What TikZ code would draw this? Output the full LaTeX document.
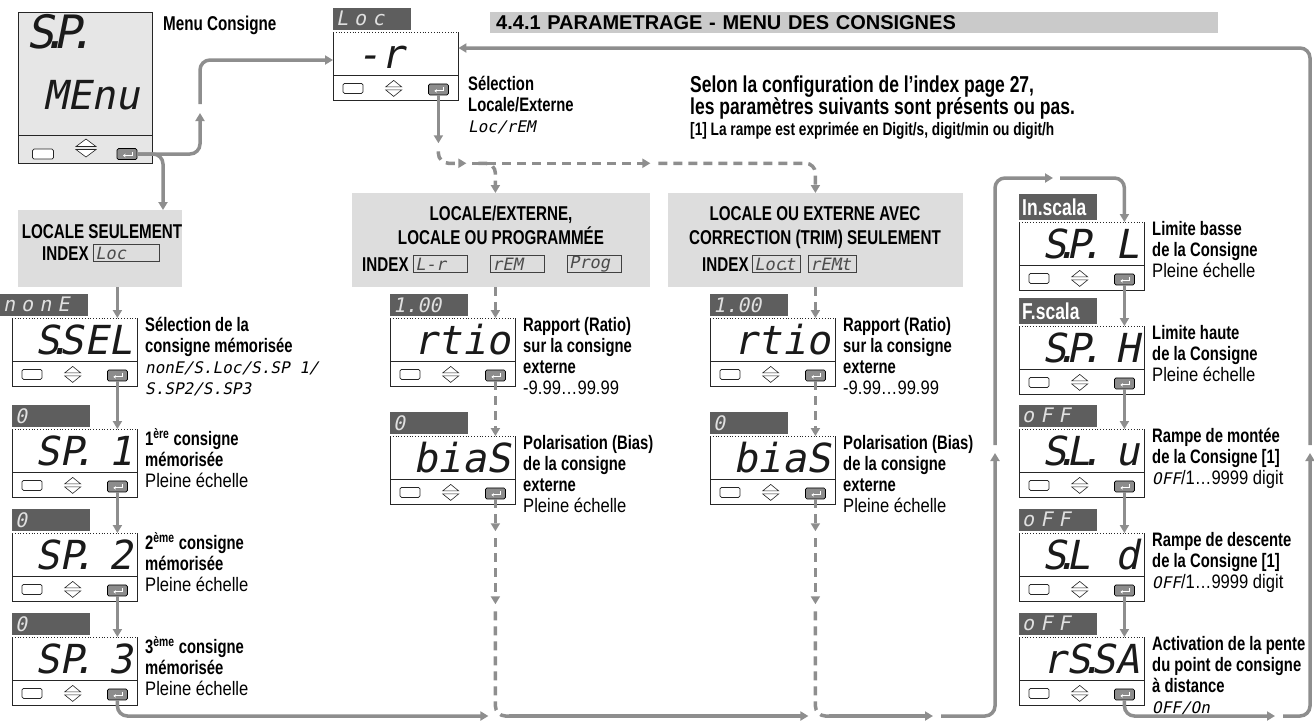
\documentclass[tikz,border=0pt]{standalone}
\usepackage{fontspec}
\setmainfont{Liberation Sans}[FakeStretch=0.76]
\newfontfamily\reg{Liberation Sans}[FakeStretch=0.85]
\newfontfamily\wide{Liberation Sans}
\newfontfamily\lcd{DejaVu Sans Mono}[FakeSlant=0.2]
\newfontfamily\lcdsp{DejaVu Sans Mono}[FakeSlant=0.2,LetterSpace=30]
\usetikzlibrary{arrows.meta,positioning,calc}

\definecolor{wire}{HTML}{8E8E8E}
\definecolor{panelgray}{HTML}{DDDDDD}
\definecolor{bargray}{HTML}{CACACA}
\definecolor{tabgray}{HTML}{5E5E5E}
\definecolor{keygray}{HTML}{8C8C8C}
\definecolor{lcdink}{HTML}{1A1A1A}

% seven-segment dot: no cell of its own
\newcommand{\lcddot}{\makebox[0pt][c]{.}}
\newcommand{\lcdt}[1]{{\lcd\mdseries\fontsize{16}{16}\selectfont#1}}
\newcommand{\plainrow}{\reg\mdseries}
\newcommand{\tabword}[1]{{\rmfamily\bfseries\fontsize{23}{23}\selectfont\color{white}#1}}

\tikzset{
  frame/.style={line width=0.8pt,draw=black!85},
  lcdbox/.style={anchor=north west,minimum width=125pt,minimum height=68pt,inner sep=0pt,fill=white},
  lcdtab/.style={anchor=south west,fill=tabgray,text=white!88!black,minimum height=22pt,
    text width=72pt,inner xsep=3pt,inner ysep=0pt,align=left,font=\lcdsp\fontsize{20}{20}\selectfont},
  lcdval/.style={anchor=base east,inner sep=0pt,text=lcdink,font=\lcd\fontsize{40}{40}\selectfont},
  blankkey/.style={draw=black!85,line width=0.7pt,fill=white,rounded corners=1.5pt,
    minimum width=20pt,minimum height=10pt,inner sep=0pt},
  enterkey/.style={draw=black,line width=0.7pt,fill=keygray,rounded corners=1.5pt,
    minimum width=20pt,minimum height=11pt,inner sep=0pt},
  desc/.style={anchor=north west,inner sep=0pt,align=left,font=\fontsize{19.5}{21}\selectfont\bfseries},
  caps/.style={inner sep=0pt,font=\bfseries\fontsize{20}{23}\selectfont},
  mode/.style={anchor=north west,fill=panelgray,inner sep=0pt},
  idxbox/.style={draw=black!75,line width=0.9pt,anchor=west,text width=#1,minimum height=17pt,
    inner xsep=2pt,inner ysep=0pt,text=black!70,font=\lcd\fontsize{17}{17}\selectfont},
  idxbox/.default=50pt,
  link/.style={draw=wire,line width=3.5pt,rounded corners=10pt},
  dlink/.style={link,dash pattern=on 9pt off 6pt},
  tip/.style={-{Triangle[length=8pt,width=9pt]}},
}

% one controller display: [tab options] name, x, y (top of the window), tab, value
\newcommand{\lcdpanel}[6][]{%
  \node[lcdbox] (#2) at (#3,#4) {};
  \draw[frame] (#2.north west) -- (#2.south west) -- (#2.south east) -- (#2.north east);
  \draw[frame,dotted] (#2.north west) -- (#2.north east);
  \draw[frame] ($(#2.north west)+(0,43)$) -- ($(#2.north east)+(0,43)$);
  \node[lcdtab,#1] (#2-tab) at ($(#2.north west)+(0,-2)$) {#5};
  \node[lcdval] (#2-val) at ($(#2.north east)+(-5,36)$) {#6};
  \node[blankkey] (#2-set) at ($(#2.south west)+(20,-12)$) {};
  \coordinate (#2-arr) at ($(#2.south)+(-2,-12)$);
  \draw[frame,line width=0.6pt,fill=white] ($(#2-arr)+(-8,-1.5)$) -- ++(8,-6.5) -- ++(8,6.5) -- cycle
    ($(#2-arr)+(-8,1.5)$) -- ++(8,6.5) -- ++(8,-6.5) -- cycle;
  \node[enterkey] (#2-ent) at ($(#2.south east)+(-20,-11)$) {};
  \draw[white,line width=1pt,-{Stealth[length=2.5pt,width=3.5pt]}]
    ($(#2-ent)+(5,-2.5)$) -- ++(0,4) -- ++(-9,0);
}

\begin{document}
\begin{tikzpicture}[x=1pt,y=-1pt]
\useasboundingbox (0,0) rectangle (1314,724);

% main menu display
\node[anchor=north west,draw=black!85,line width=0.9pt,fill=panelgray!75,
  minimum width=134pt,minimum height=151pt,inner sep=0pt] (menu) at (18,12) {};
\draw[frame] ($(menu.north west)+(0,123)$) -- ($(menu.north east)+(0,123)$);
\node[anchor=base west,inner sep=0pt,text=lcdink,font=\lcd\fontsize{46}{46}\selectfont] (menu-sp) at (26,48) {S\lcddot P\lcddot};
\node[anchor=base east,inner sep=0pt,text=lcdink,font=\lcd\fontsize{40}{40}\selectfont] (menu-val) at (140,109) {MEnu};
\node[blankkey,minimum width=21pt] (menu-set) at (43,154) {};
\coordinate (menu-arr) at (86,148);
\draw[frame,line width=0.6pt,fill=white] ($(menu-arr)+(-10,-1.5)$) -- ++(10,-7.5) -- ++(10,7.5) -- cycle
  ($(menu-arr)+(-10,1.5)$) -- ++(10,7.5) -- ++(10,-7.5) -- cycle;
\node[enterkey] (menu-ent) at (127,154) {};
\draw[white,line width=1pt,-{Stealth[length=2.5pt,width=3.5pt]}] ($(menu-ent)+(5,-2.5)$) -- ++(0,4) -- ++(-9,0);
\node[anchor=north west,inner sep=0pt,font=\bfseries\fontsize{20}{20}\selectfont] (menu-txt) at (163,16) {Menu Consigne};

% title and notes
\node[anchor=north west,fill=bargray,minimum height=21pt,text width=716pt,inner xsep=6pt,inner ysep=0pt,
  align=left,font=\wide\bfseries\fontsize{20}{20}\selectfont] (title) at (490,12) {4.4.1 PARAMETRAGE - MENU DES CONSIGNES};
\node[anchor=north west,inner sep=0pt,align=left,font=\bfseries\fontsize{23}{22}\selectfont] (note) at (690,76)
  {Selon la configuration de l’index page 27,\\les paramètres suivants sont présents ou pas.};
\node[anchor=base west,inner sep=0pt,font=\bfseries\fontsize{18}{18}\selectfont] (note-ramp) at (690,135) {[1] La rampe est exprimée en Digit/s, digit/min ou digit/h};

% local / remote selection
\lcdpanel{locrem}{333}{32}{Loc}{-r\phantom{00}}
\node[desc] (locrem-txt) at (468,76) {Sélection\\Locale/Externe\\\lcdt{Loc/rEM}};

% index groups
\node[mode,minimum width=164pt,minimum height=77pt] (onlyloc) at (18,210) {};
\node[caps,anchor=base] (onlyloc-t) at (102,238) {LOCALE SEULEMENT};
\node[caps,anchor=base west] (onlyloc-i) at (42,260) {INDEX};
\node[idxbox=62pt,right=4pt of onlyloc-i] (onlyloc-k) {Loc};

\node[mode,minimum width=298pt,minimum height=94pt] (modeA) at (352,193) {};
\node[caps,anchor=base] (modeA-t1) at (501,220) {LOCALE/EXTERNE,};
\node[caps,anchor=base] (modeA-t2) at (501,244) {LOCALE OU PROGRAMMÉE};
\node[caps,anchor=base west] (modeA-i) at (362,271) {INDEX};
\node[idxbox,right=4pt of modeA-i] (modeA-k1) {L-r};
\node[idxbox,right=22pt of modeA-k1] (modeA-k2) {rEM};
\node[idxbox,right=22pt of modeA-k2] (modeA-k3) {Prog};

\node[mode,minimum width=295pt,minimum height=94pt] (modeB) at (668,193) {};
\node[caps,anchor=base] (modeB-t1) at (815,220) {LOCALE OU EXTERNE AVEC};
\node[caps,anchor=base] (modeB-t2) at (815,244) {CORRECTION (TRIM) SEULEMENT};
\node[caps,anchor=base west] (modeB-i) at (702,271) {INDEX};
\node[idxbox=44pt,right=3pt of modeB-i] (modeB-k1) {Loc\lcddot t};
\node[idxbox=44pt,right=7pt of modeB-k1] (modeB-k2) {rEM\lcddot t};

% local set points
\lcdpanel[xshift=-12pt,text width=82pt]{ssel}{12}{318}{nonE}{S\lcddot SEL}
\lcdpanel{sp1}{12}{429}{0}{SP\lcddot\ 1}
\lcdpanel{sp2}{12}{533}{0}{SP\lcddot\ 2}
\lcdpanel{sp3}{12}{637}{0}{SP\lcddot\ 3}
\node[desc] (ssel-txt) at (145,317) {Sélection de la\\consigne mémorisée\\\lcdt{nonE/S.Loc/S.SP 1/}\\\lcdt{S.SP2/S.SP3}};
\node[desc] (sp1-txt) at (145,428) {1\textsuperscript{ère} consigne\\mémorisée\\\plainrow Pleine échelle};
\node[desc] (sp2-txt) at (145,532) {2\textsuperscript{ème} consigne\\mémorisée\\\plainrow Pleine échelle};
\node[desc] (sp3-txt) at (145,636) {3\textsuperscript{ème} consigne\\mémorisée\\\plainrow Pleine échelle};

% ratio and bias
\lcdpanel{rtioA}{390}{318}{\lcd 1.00}{rtio}
\lcdpanel{biasA}{390}{436}{0}{biaS}
\lcdpanel{rtioB}{710}{318}{\lcd 1.00}{rtio}
\lcdpanel{biasB}{710}{436}{0}{biaS}
\node[desc] (rtioA-txt) at (523,317) {Rapport (Ratio)\\sur la consigne\\externe\\\plainrow -9.99…99.99};
\node[desc] (biasA-txt) at (523,435) {Polarisation (Bias)\\de la consigne\\externe\\\plainrow Pleine échelle};
\node[desc] (rtioB-txt) at (843,317) {Rapport (Ratio)\\sur la consigne\\externe\\\plainrow -9.99…99.99};
\node[desc] (biasB-txt) at (843,435) {Polarisation (Bias)\\de la consigne\\externe\\\plainrow Pleine échelle};

% limits and ramps
\lcdpanel[minimum height=26pt]{spl}{1019}{222}{\tabword{In.scala}}{S\lcddot P\lcddot\ L}
\lcdpanel[minimum height=26pt]{sph}{1019}{326}{\tabword{F.scala}}{S\lcddot P\lcddot\ H}
\lcdpanel{slu}{1019}{429}{oFF}{S\lcddot L\lcddot\ u}
\lcdpanel{sld}{1019}{533}{oFF}{S\lcddot L\ d}
\lcdpanel{rssa}{1019}{637}{oFF}{rS\lcddot SA}
\node[desc] (spl-txt) at (1152,221) {Limite basse\\de la Consigne\\\plainrow Pleine échelle};
\node[desc] (sph-txt) at (1152,325) {Limite haute\\de la Consigne\\\plainrow Pleine échelle};
\node[desc] (slu-txt) at (1152,428) {Rampe de montée\\de la Consigne [1]\\\plainrow\lcdt{OFF}/1…9999 digit};
\node[desc] (sld-txt) at (1152,532) {Rampe de descente\\de la Consigne [1]\\\plainrow\lcdt{OFF}/1…9999 digit};
\node[desc] (rssa-txt) at (1152,636) {Activation de la pente\\du point de consigne\\à distance\\\lcdt{OFF/On}};

% ---- connectors ----
\coordinate (split) at (163,154);
\coordinate (menu-up) at (200,113);
\coordinate (menu-up2) at (200,104);
\coordinate (locrem-w) at ($(locrem.north west)+(0,28)$);
\draw[link,tip] (menu-ent.east) -| (split |- onlyloc.north);
\draw[link,tip] (menu-ent.east) -| (menu-up);
\draw[link,tip] (menu-up2) |- (locrem-w);

% fork towards the index groups
\coordinate (fork-top) at ($(locrem-ent.south)+(0,48)$);
\coordinate (fork) at ($(locrem-ent.south)+(0,56)$);
\draw[link,tip] (locrem-ent.south) -- (fork-top);
\draw[dlink,tip] (fork) |- ($(fork)+(28,12)$);
\draw[dlink,tip] ($(fork)+(34,12)$) -- ($(fork)+(212,12)$);
\draw[dlink,tip] ($(fork)+(40,12)$) -| (rtioA-ent |- modeA.north);
\draw[dlink,tip] ($(fork)+(220,12)$) -| (rtioB-ent |- modeB.north);

% left column
\draw[link,tip] (onlyloc.south -| ssel-ent) -- (ssel-ent |- ssel.north);
\draw[link,tip] (ssel-ent.south) -- (sp1-ent |- sp1.north);
\draw[link,tip] (sp1-ent.south) -- (sp2-ent |- sp2.north);
\draw[link,tip] (sp2-ent.south) -- (sp3-ent |- sp3.north);

% ratio / bias columns
\foreach \c in {A,B} {
  \draw[dlink,tip] (rtio\c-ent |- mode\c.south) -- (rtio\c-ent |- rtio\c.north);
  \draw[dlink,tip] (rtio\c-ent.south) -- (bias\c-ent |- bias\c.north);
  \draw[dlink,tip] (bias\c-ent.south) -- ($(bias\c-ent.south)+(0,32)$);
  \draw[dlink,tip] ($(bias\c-ent.south)+(0,39)$) -- ($(bias\c-ent.south)+(0,105)$);
}

% return line along the bottom
\coordinate (bot) at (0,716);
\coordinate (joinA) at (biasA-ent |- bot);
\coordinate (joinB) at (biasB-ent |- bot);
\coordinate (loop-sw) at (995,716);
\coordinate (loop-nw) at (995,178);
\draw[link,tip] (sp3-ent.south) |- ($(joinA)+(-7,0)$);
\draw[dlink] ($(biasA-ent.south)+(0,112)$) |- ($(joinA)+(14,0)$);
\draw[link,tip] ($(joinA)+(14,0)$) -- ($(joinB)+(-7,0)$);
\draw[dlink] ($(biasB-ent.south)+(0,112)$) |- ($(joinB)+(14,0)$);
\draw[link,tip] ($(joinB)+(14,0)$) -- ($(loop-sw)+(-62,0)$);
\draw[link,tip] ($(loop-sw)+(-54,0)$) -| ($(loop-sw)+(0,-263)$);
\draw[link,tip] ($(loop-sw)+(0,-271)$) |- ($(loop-nw)+(58,0)$);
\draw[link,tip] ($(loop-nw)+(65,0)$) -| (spl-ent |- spl.north);

% right column
\draw[link,tip] (spl-ent.south) -- (sph-ent |- sph.north);
\draw[link,tip] (sph-ent.south) -- (slu-ent |- slu.north);
\draw[link,tip] (slu-ent.south) -- (sld-ent |- sld.north);
\draw[link,tip] (sld-ent.south) -- (rssa-ent |- rssa.north);

% back to the start of the menu
\coordinate (ret-se) at (1310,716);
\coordinate (locrem-e) at ($(locrem.north east)+(0,16)$);
\draw[link,tip] (rssa-ent.south) |- ($(ret-se)+(-35,0)$);
\draw[link,tip] ($(ret-se)+(-27,0)$) -| ($(ret-se)+(0,-263)$);
\draw[link,tip] ($(ret-se)+(0,-271)$) |- (locrem-e);
\end{tikzpicture}
\end{document}
